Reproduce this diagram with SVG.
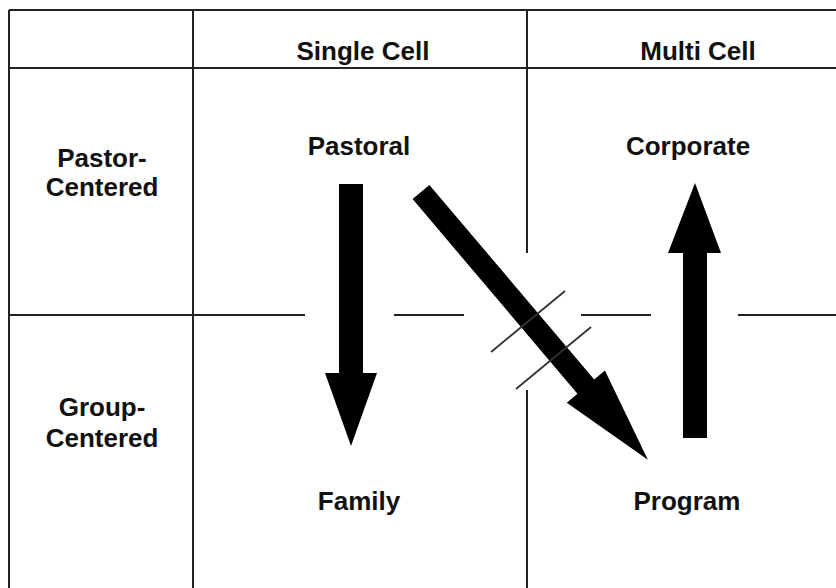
<svg xmlns="http://www.w3.org/2000/svg" width="836" height="588" viewBox="0 0 836 588">
<style>
.grid{stroke:#222;stroke-width:2;fill:none}
.hash{stroke:#333;stroke-width:1.8;fill:none}
.lbl{font-family:"Liberation Sans",Arial,sans-serif;font-weight:bold;font-size:26px;fill:#111;text-anchor:middle}
.arr{fill:#000}
</style>
<rect width="836" height="588" fill="#fff"/>
<g id="grid" class="grid">
<line x1="9" y1="10" x2="836" y2="10"/>
<line x1="9" y1="68" x2="836" y2="68"/>
<line x1="9" y1="10" x2="9" y2="588"/>
<line x1="193" y1="10" x2="193" y2="588"/>
<line x1="527" y1="10" x2="527" y2="253"/>
<line x1="527" y1="390" x2="527" y2="588"/>
<line x1="9" y1="315" x2="305" y2="315"/>
<line x1="394" y1="315" x2="464" y2="315"/>
<line x1="581" y1="315" x2="651" y2="315"/>
<line x1="738" y1="315" x2="836" y2="315"/>
</g>
<g id="headers">
<text class="lbl" x="363" y="60">Single Cell</text>
<text class="lbl" x="698" y="60">Multi Cell</text>
<text class="lbl" x="102" y="167">Pastor-</text>
<text class="lbl" x="102" y="196">Centered</text>
<text class="lbl" x="102" y="416">Group-</text>
<text class="lbl" x="102" y="447">Centered</text>
</g>
<g id="pastoral"><text class="lbl" x="359" y="155">Pastoral</text></g>
<g id="corporate"><text class="lbl" x="688" y="155">Corporate</text></g>
<g id="family"><text class="lbl" x="359" y="510">Family</text></g>
<g id="program"><text class="lbl" x="687" y="510">Program</text></g>
<g id="connectors">
<polygon class="arr" points="339,184 363,184 363,373 377,373 351,446 325,373 339,373"/>
<polygon class="arr" points="683,438 707,438 707,253 721,253 695,183 668,253 683,253"/>
<polygon class="arr" transform="translate(421,192) rotate(49.73)" points="0,-11 255,-11 255,-25 351,0 255,25 255,11 0,11"/>
<line class="hash" x1="491" y1="352" x2="565" y2="291"/>
<line class="hash" x1="516" y1="389" x2="591" y2="327"/>
</g>
</svg>
